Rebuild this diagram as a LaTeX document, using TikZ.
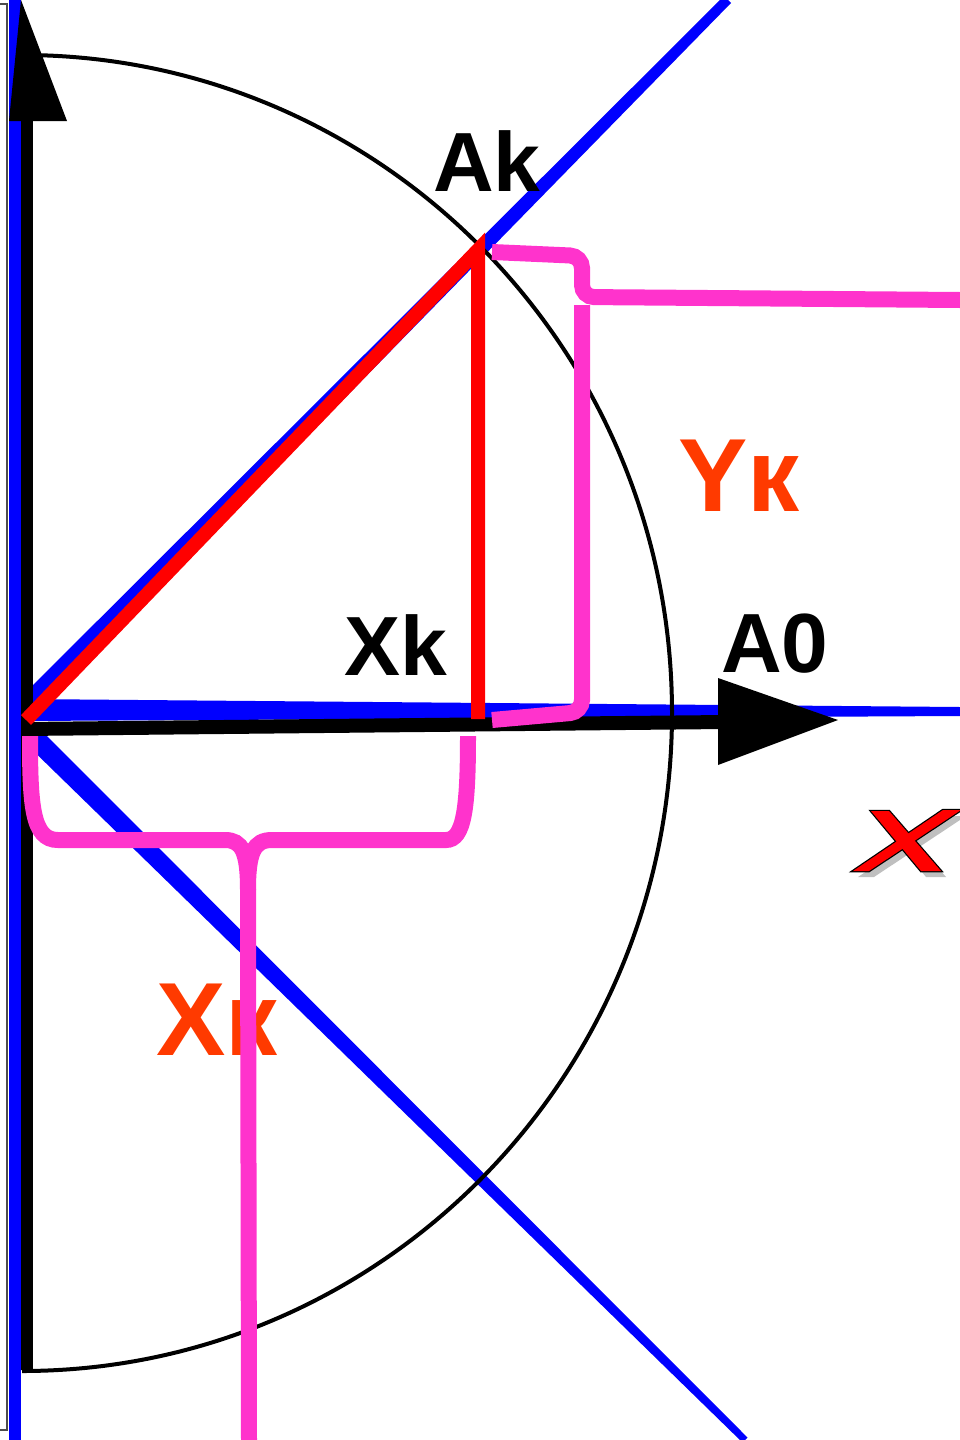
\documentclass[tikz,border=0pt]{standalone}
\usepackage{fontspec}
\setmainfont{Liberation Sans}
\usepackage{tikz}
\usetikzlibrary{calc}
\definecolor{vecblue}{HTML}{0000FF}
\definecolor{vecred}{HTML}{FF0000}
\definecolor{bracepink}{HTML}{FF33CC}
\definecolor{labelred}{HTML}{FF3A00}

\begin{document}
\begin{tikzpicture}[x=1pt,y=-1pt, every node/.style={inner sep=0pt, font=\fontsize{84}{84}\selectfont\bfseries},
  brace/.style={bracepink, line width=16pt},
  redlabel/.style={labelred, font=\fontsize{104}{104}\selectfont\bfseries}]
\useasboundingbox (0,0) rectangle (960,1440);
\coordinate (O) at (22,716);
\coordinate (Ak) at (478,250);
% frame edge
\draw[black!70, line width=1.2pt] (0,4) -- (7,4) -- (7,1430) -- (0,1430);
% blue lines
\fill[vecblue] (9,0) rectangle (21,1440);
\fill[vecblue] (22,699) -- (960,707) -- (960,716) -- (22,721) -- cycle;
\fill[vecblue] (12,706) -- (724,-4) -- (731,3) -- (28,722) -- cycle;
\fill[vecblue] (29,718) -- (747.5,1437.5) -- (742.5,1442.5) -- (15,733) -- cycle;
% circle
\draw[line width=4pt] (22,55) arc[start angle=-90, end angle=90, x radius=650, y radius=658];
% axes
\draw[line width=12pt] (27,1370) -- (27,110);
\fill (21,0) -- (67,121) -- (9,121) -- cycle;
\draw[line width=14pt] (22,729) -- (725,722);
\fill (718,678) -- (838,720) -- (718,765) -- cycle;
% vector Ak and its projection
\draw[vecred, line width=14pt, line join=miter] (26,720) -- (Ak) -- (478,719);
% labels
\node (lAk) at (487,161) {Ak};
\node (lXk) at (396,645) {Xk};
\node (lA0) at (775,644) {A0};
\node[redlabel] (lYk) at (739,476) {Yк};
\node[redlabel] (lXk2) at (217,1020) {Xк};
% braces
\draw[brace, rounded corners=12pt] (492,252) -- (582,256) -- (582,297) -- (960,300);
\draw[brace, rounded corners=12pt] (582,305) -- (582,712) -- (492,720);
\draw[brace] (30,736) .. controls (30,805) and (32,840) .. (58,840) -- (225,840)
  .. controls (242,840) and (248,852) .. (248,890) -- (249,1440);
\draw[brace] (248,890) .. controls (248,852) and (254,840) .. (272,840) -- (446,840)
  .. controls (464,840) and (468,808) .. (468,736);
% red X mark
\fill[black, opacity=0.25] (876,816) -- (894,816) -- (946,877) -- (926,877) -- cycle;
\fill[black, opacity=0.25] (858,877) -- (874,877) -- (966,816) -- (948,816) -- cycle;
\draw[line width=2.5pt, line join=miter] (871,811) -- (889,811) -- (941,871) -- (921,871) -- cycle;
\draw[line width=2.5pt, line join=miter] (853,871) -- (869,871) -- (961,810) -- (943,810) -- cycle;
\fill[vecred] (871,811) -- (889,811) -- (941,871) -- (921,871) -- cycle;
\fill[vecred] (853,871) -- (869,871) -- (961,810) -- (943,810) -- cycle;
\end{tikzpicture}
\end{document}
